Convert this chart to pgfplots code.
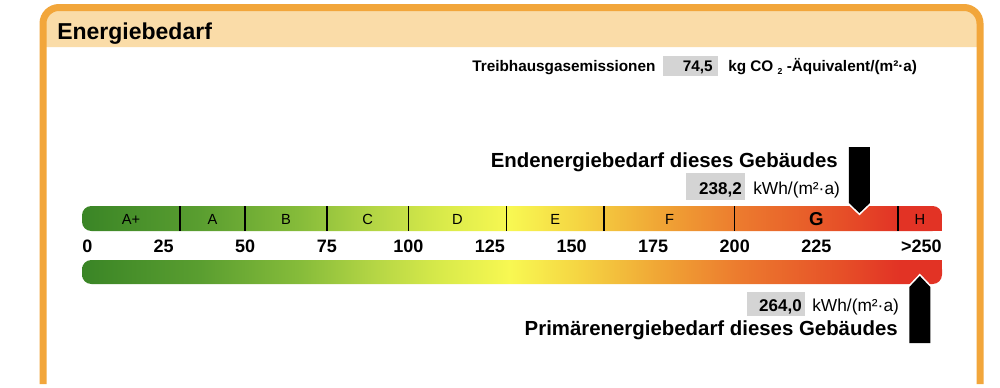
\documentclass[border=0pt]{standalone}
\usepackage{pgfplots}
\pgfplotsset{compat=1.18}
\usepackage{fontspec}
\setmainfont{Liberation Sans}
\definecolor{frameor}{HTML}{F2A63B}
\definecolor{headbg}{HTML}{FADCA8}
\definecolor{boxgray}{HTML}{D4D4D4}
\definecolor{c0}{HTML}{3A8526}
\definecolor{c1}{HTML}{5A9E30}
\definecolor{c2}{HTML}{86BC3A}
\definecolor{c3}{HTML}{B5D645}
\definecolor{c4}{HTML}{D8EA4A}
\definecolor{c5}{HTML}{F8F852}
\definecolor{c6}{HTML}{F5D442}
\definecolor{c7}{HTML}{F0A535}
\definecolor{c8}{HTML}{EC7A2E}
\definecolor{c9}{HTML}{E65028}
\definecolor{c10}{HTML}{E23325}
\pgfdeclarehorizontalshading{energy}{100bp}{color(0bp)=(c0); color(25bp)=(c0); color(31.86bp)=(c1); color(37.67bp)=(c2); color(42.03bp)=(c3); color(45.81bp)=(c4); color(49.88bp)=(c5); color(53.95bp)=(c6); color(58.6bp)=(c7); color(63.26bp)=(c8); color(69.07bp)=(c9); color(72.5bp)=(c10); color(100bp)=(c10)}
\newcommand{\fs}[1]{\fontsize{#1}{#1}\selectfont}
\begin{document}
\begin{tikzpicture}[every node/.style={inner sep=0pt}]
% ---------- background axis in pixel units ----------
\begin{axis}[
  at={(0,0)}, anchor=south west,
  scale only axis, width=750pt, height=288pt,
  xmin=0, xmax=1000, ymin=0, ymax=384, y dir=reverse,
  axis lines=none, xtick=\empty, ytick=\empty, clip=false,
  axis background/.style={fill=white},
]
% header band
\addplot[fill=headbg, draw=none, rounded corners=12pt] coordinates {(43,47) (43,7.5) (980,7.5) (980,47)};
% frame
\addplot[draw=frameor, line width=5.25pt, rounded corners=12pt] coordinates {(43,384) (43,7.5) (980,7.5) (980,384)};
\node[anchor=base west, font=\bfseries\fs{17.25}] at (axis cs:57,39) {Energiebedarf};
% Treibhausgas
\node[anchor=base west, font=\bfseries\fs{11.5}] at (axis cs:472,71) {Treibhausgasemissionen};
\node[fill=boxgray, minimum width=41.25pt, minimum height=15pt] at (axis cs:690.5,66) {};
\node[anchor=base east, font=\bfseries\fs{11.5}] at (axis cs:713,71) {74,5};
\node[anchor=base west, font=\bfseries\fs{11.5}] at (axis cs:728,71) {kg CO {\fs{6.5}\raisebox{-2.5pt}{2}} -Äquivalent/(m²·a)};
% Endenergie
\node[anchor=base east, font=\bfseries\fs{15.3}] at (axis cs:838,167) {Endenergiebedarf dieses Gebäudes};
\node[fill=boxgray, minimum width=44.25pt, minimum height=20pt] at (axis cs:715.5,186.5) {};
\node[anchor=base east, font=\bfseries\fs{12.75}] at (axis cs:742,194) {238,2};
\node[anchor=base west, font=\fs{13}] at (axis cs:753,194) {kWh/(m²·a)};
% Primaerenergie
\node[fill=boxgray, minimum width=43.5pt, minimum height=18pt] at (axis cs:776,304) {};
\node[anchor=base east, font=\bfseries\fs{12.75}] at (axis cs:802,311) {264,0};
\node[anchor=base west, font=\fs{13}] at (axis cs:812,311) {kWh/(m²·a)};
\node[anchor=base east, font=\bfseries\fs{15.3}] at (axis cs:898,335) {Primärenergiebedarf dieses Gebäudes};
\end{axis}
% ---------- scale axis: x in kWh/(m2 a), y in pixels ----------
\begin{axis}[
  at={(61.5pt,0)}, anchor=south west,
  scale only axis, width=645pt, height=288pt,
  xmin=0, xmax=263.5, ymin=0, ymax=384, y dir=reverse,
  axis lines=none, xtick=\empty, ytick=\empty, clip=false,
]
% class bar
\addplot[shading=energy, draw=none, rounded corners=7pt] coordinates {(100,206) (263.5,206) (263.5,231) (0,231) (0,206) (100,206)};
\addplot[fill=c10, draw=none] coordinates {(255,220) (263.5,220) (263.5,231) (255,231)};
% gradient bar
\addplot[shading=energy, draw=none, rounded corners=7pt] coordinates {(100,260) (263.5,260) (263.5,284) (0,284) (0,260) (100,260)};
\addplot[fill=c10, draw=none] coordinates {(255,260) (263.5,260) (263.5,271) (255,271)};
% class dividers
\pgfplotsinvokeforeach{30,50,75,100,130,160,200,250}{
  \addplot[black, line width=1.1pt] coordinates {(#1,206) (#1,231)};
}
% class labels
\node[anchor=base, font=\fs{11}] at (axis cs:15,224) {A+};
\node[anchor=base, font=\fs{11}] at (axis cs:40,224) {A};
\node[anchor=base, font=\fs{11}] at (axis cs:62.5,224) {B};
\node[anchor=base, font=\fs{11}] at (axis cs:87.5,224) {C};
\node[anchor=base, font=\fs{11}] at (axis cs:115,224) {D};
\node[anchor=base, font=\fs{11}] at (axis cs:145,224) {E};
\node[anchor=base, font=\fs{11}] at (axis cs:180,224) {F};
\node[anchor=base, font=\bfseries\fs{14}] at (axis cs:225,225) {G};
\node[anchor=base, font=\fs{11}] at (axis cs:256.75,224) {H};
% scale numbers
\node[anchor=base west, font=\bfseries\fs{13.5}] at (axis cs:0,252) {0};
\pgfplotsinvokeforeach{25,50,75,100,125,150,175,200,225}{
  \node[anchor=base, font=\bfseries\fs{13.5}] at (axis cs:#1,252) {#1};
}
\node[anchor=base east, font=\bfseries\fs{13.5}] at (axis cs:263.5,252) {>250};
% Endenergie arrow (238.2)
\addplot[fill=black, draw=white, line width=2.5pt, line join=miter] coordinates {(235.0,147) (241.4,147) (241.4,203) (238.2,213) (235.0,203)} -- cycle;
\addplot[fill=black, draw=none] coordinates {(235.0,147) (241.4,147) (241.4,203) (238.2,213) (235.0,203)} -- cycle;
% Primaerenergie arrow (264.0, capped at scale end)
\addplot[fill=black, draw=white, line width=2.5pt, line join=miter] coordinates {(253.5,343) (259.9,343) (259.9,287) (256.7,276) (253.5,287)} -- cycle;
\addplot[fill=black, draw=none] coordinates {(253.5,343) (259.9,343) (259.9,287) (256.7,276) (253.5,287)} -- cycle;
\end{axis}
\end{tikzpicture}
\end{document}
